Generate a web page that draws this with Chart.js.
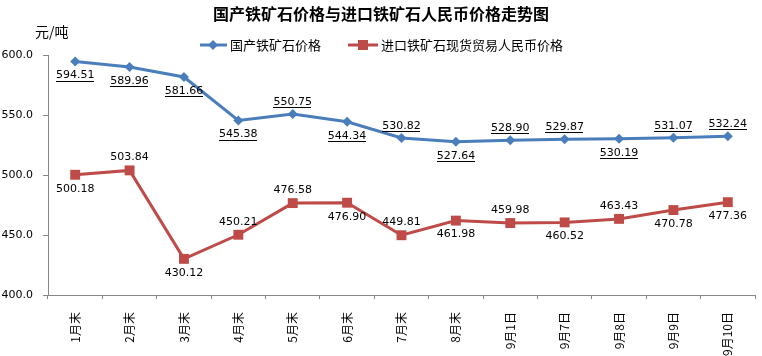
<!DOCTYPE html>
<html>
<head>
<meta charset="utf-8">
<script src="https://cdn.jsdelivr.net/npm/chart.js@4/dist/chart.umd.min.js"></script>
<style>
html,body{margin:0;padding:0;background:#fff;}
#wrap{width:762px;height:356px;position:relative;}
</style>
</head>
<body>
<div id="wrap"><canvas id="c" width="762" height="356"></canvas></div>
<script>
const chartTitle = '国产铁矿石价格与进口铁矿石人民币价格走势图';
const unitLabel = '元/吨';
const categories = ['1月末','2月末','3月末','4月末','5月末','6月末','7月末','8月末','9月1日','9月7日','9月8日','9月9日','9月10日'];
const domesticName = '国产铁矿石价格';
const importName = '进口铁矿石现货贸易人民币价格';
const domesticPrice = [594.51,589.96,581.66,545.38,550.75,544.34,530.82,527.64,528.90,529.87,530.19,531.07,532.24];
const importPrice = [500.18,503.84,430.12,450.21,476.58,476.90,449.81,461.98,459.98,460.52,463.43,470.78,477.36];
const yMin = 400, yMax = 600, yStep = 50;
// label placement: 'a' above the point, 'b' below
const domesticLabelSide = ['b','b','b','b','a','b','a','b','a','a','b','a','a'];
const importLabelSide = ['b','a','b','a','a','b','a','b','a','b','a','b','b'];

const BLUE = '#4A7EBB';
const RED = '#BE4B48';
const NUMFONT = '11px "DejaVu Sans"';
const CJK = '"Noto Sans CJK SC"';

const decorPlugin = {
  id: 'decor',
  afterDraw(chart) {
    const ctx = chart.ctx;
    ctx.save();
    ctx.fillStyle = '#000';
    ctx.font = 'bold 16px ' + CJK;
    ctx.textAlign = 'center';
    ctx.textBaseline = 'middle';
    ctx.fillText(chartTitle, 381, 14);
    ctx.font = '14px ' + CJK;
    ctx.textAlign = 'left';
    ctx.fillText(unitLabel, 35, 32);
    const ly = 45;
    ctx.lineWidth = 3;
    ctx.strokeStyle = BLUE;
    ctx.beginPath(); ctx.moveTo(200, ly); ctx.lineTo(227, ly); ctx.stroke();
    ctx.fillStyle = BLUE;
    ctx.beginPath(); ctx.moveTo(213-5, ly); ctx.lineTo(213, ly-5); ctx.lineTo(213+5, ly); ctx.lineTo(213, ly+5); ctx.closePath(); ctx.fill();
    ctx.strokeStyle = RED;
    ctx.beginPath(); ctx.moveTo(348, ly); ctx.lineTo(378, ly); ctx.stroke();
    ctx.fillStyle = RED;
    ctx.fillRect(363-5, ly-5, 10, 10);
    ctx.fillStyle = '#000';
    ctx.font = '13px ' + CJK;
    ctx.textBaseline = 'middle';
    ctx.fillText(domesticName, 230, ly);
    ctx.fillText(importName, 381, ly);
    ctx.restore();
  },
  afterDatasetsDraw(chart) {
    const ctx = chart.ctx;
    ctx.save();
    ctx.font = NUMFONT;
    ctx.textAlign = 'center';
    ctx.textBaseline = 'middle';
    ctx.fillStyle = '#000';
    const sets = [
      {idx: 0, vals: domesticPrice, side: domesticLabelSide, up: -12, down: 14, underline: true},
      {idx: 1, vals: importPrice, side: importLabelSide, up: -13, down: 14, underline: false}
    ];
    sets.forEach(s => {
      const meta = chart.getDatasetMeta(s.idx);
      meta.data.forEach((pt, i) => {
        const txt = s.vals[i].toFixed(2);
        const y = pt.y + (s.side[i] === 'a' ? s.up : s.down);
        ctx.fillText(txt, pt.x, y);
        if (s.underline) {
          const w = ctx.measureText(txt).width;
          ctx.fillRect(Math.round(pt.x - w/2), Math.round(y + 5), Math.round(w), 1);
        }
      });
    });
    ctx.restore();
  }
};

new Chart(document.getElementById('c'), {
  type: 'line',
  data: {
    labels: categories,
    datasets: [
      {
        label: domesticName,
        data: domesticPrice,
        borderColor: BLUE,
        backgroundColor: BLUE,
        borderWidth: 3,
        pointStyle: 'rectRot',
        pointRadius: 5,
        pointBorderWidth: 0,
        pointBackgroundColor: BLUE,
        tension: 0,
        clip: false
      },
      {
        label: importName,
        data: importPrice,
        borderColor: RED,
        backgroundColor: RED,
        borderWidth: 3,
        pointStyle: 'rect',
        pointRadius: 7,
        pointBorderWidth: 0,
        pointBackgroundColor: RED,
        tension: 0,
        clip: false
      }
    ]
  },
  options: {
    responsive: false,
    animation: false,
    devicePixelRatio: 1,
    layout: {padding: {top: 55, right: 2, left: 0, bottom: 0}},
    plugins: {
      legend: {display: false},
      title: {display: false},
      tooltip: {enabled: false}
    },
    scales: {
      x: {
        offset: true,
        grid: {offset: true, drawOnChartArea: false, color: '#888', tickLength: 4, lineWidth: 1},
        border: {color: '#888', width: 1},
        ticks: {
          minRotation: 90, maxRotation: 90, padding: 13, color: '#000',
          font: {family: 'Noto Sans CJK SC', size: 12}, autoSkip: false
        },
        afterFit(scale) { scale.height = 61; }
      },
      y: {
        min: yMin, max: yMax,
        grid: {drawOnChartArea: false, color: '#888', tickLength: 5},
        border: {color: '#888', width: 1},
        ticks: {
          stepSize: yStep, padding: 10, color: '#000',
          font: {family: 'DejaVu Sans', size: 11},
          callback: v => Number(v).toFixed(1)
        },
        afterFit(scale) { scale.width = 48; }
      }
    }
  },
  plugins: [decorPlugin]
});
</script>
</body>
</html>
